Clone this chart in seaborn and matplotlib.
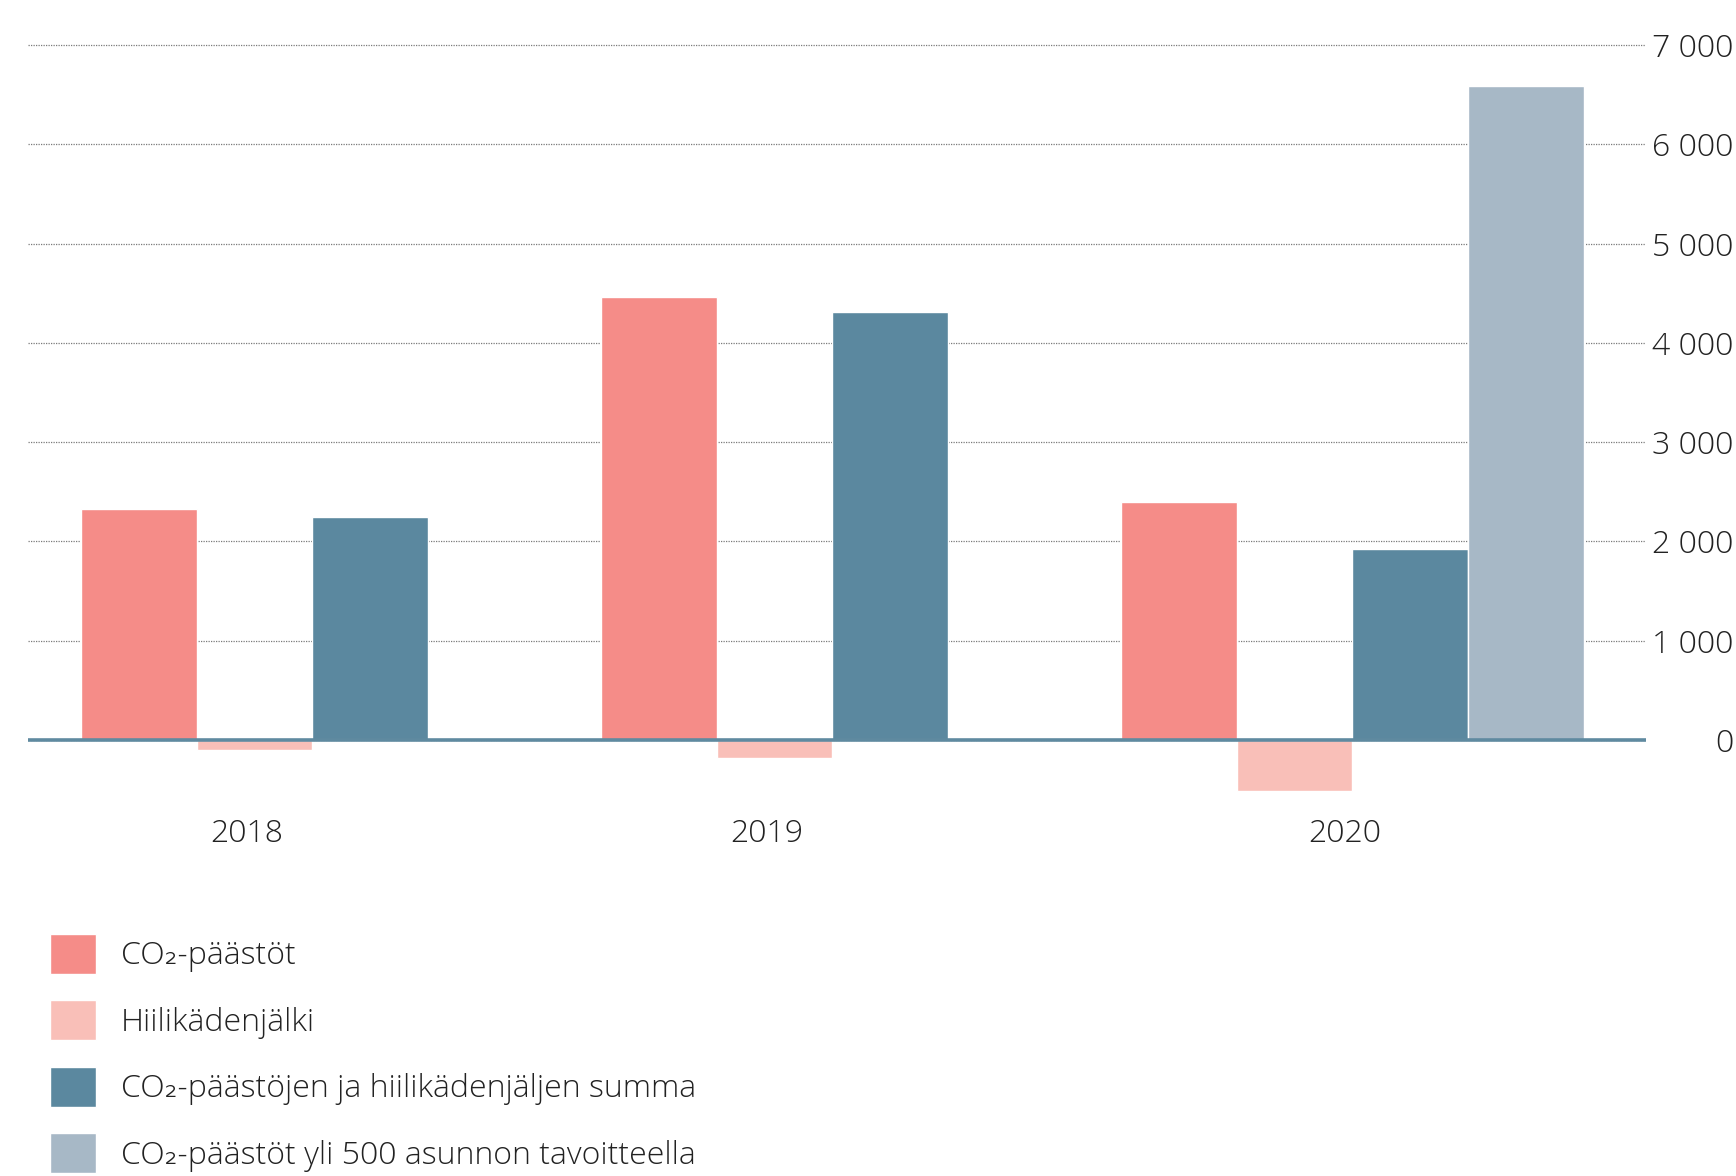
import matplotlib
matplotlib.use("Agg")
import matplotlib.pyplot as plt
import seaborn as sns
import pandas as pd
import numpy as np

# data
years = ["2018", "2019", "2020"]
series = [
    "CO₂-päästöt",
    "Hiilikädenjälki",
    "CO₂-päästöjen ja hiilikädenjäljen summa",
    "CO₂-päästöt yli 500 asunnon tavoitteella",
]
co2 = [2330, 4460, 2400]
hiili = [-100, -180, -515]
summa = [2250, 4310, 1920]
tavoite = [np.nan, np.nan, 6590]
colors = ["#f58c88", "#f9bfb8", "#5b889f", "#a7b8c6"]
yticks = [0, 1000, 2000, 3000, 4000, 5000, 6000, 7000]

rows = []
for name, vals in zip(series, [co2, hiili, summa, tavoite]):
    for y, v in zip(years, vals):
        rows.append({"vuosi": y, "sarja": name, "arvo": v})
df = pd.DataFrame(rows)

sns.set_style("white")
plt.rcParams["font.family"] = ["Open Sans", "DejaVu Sans"]
plt.rcParams["font.weight"] = "light"

fig = plt.figure(figsize=(17.36, 11.76), dpi=100)
ax = fig.add_axes([0.016, 0.320, 0.932, 0.646])

bw = 0.89
sns.barplot(data=df, x="vuosi", y="arvo", hue="sarja", hue_order=series,
            palette=colors, saturation=1, width=bw, ax=ax, zorder=2)

ax.set_xlim(-0.547, 2.564)
ax.set_ylim(-600, 7050)
ax.set_xlabel("")
ax.set_ylabel("")
for s in ax.spines.values():
    s.set_visible(False)

ax.set_axisbelow(True)
ax.yaxis.grid(True, linestyle=(0, (1, 1)), color="#7a7a7a", lw=0.9)
ax.axhline(0, color="#5f8aa0", lw=2.6, zorder=3)

# year label centred on the bars present in each group
slot = bw / len(series)
n_present = [sum(not np.isnan(v[i]) for v in [co2, hiili, summa, tavoite]) for i in range(len(years))]
xt = [i - (len(series) - n) * slot / 2 - 0.015 for i, n in enumerate(n_present)]
ax.set_xticks(xt)
ax.set_xticklabels(years)
ax.tick_params(axis="x", length=0, pad=13, labelsize=23, colors="#222222")

ax.yaxis.tick_right()
ax.set_yticks(yticks)
ax.set_yticklabels([f"{v:,}".replace(",", " ") for v in yticks])
ax.tick_params(axis="y", length=0, pad=63, labelsize=23, colors="#222222")
for lab in ax.get_yticklabels():
    lab.set_ha("right")

handles, labels = ax.get_legend_handles_labels()
ax.legend(handles, labels, loc="upper left", bbox_to_anchor=(0.0288, 0.206),
          bbox_transform=fig.transFigure, frameon=False, fontsize=23,
          handlelength=1.44, handleheight=1.55, handletextpad=0.78,
          labelspacing=0.83, borderaxespad=0, borderpad=0,
          labelcolor="#222222")

fig.savefig("out.png", dpi=100)
